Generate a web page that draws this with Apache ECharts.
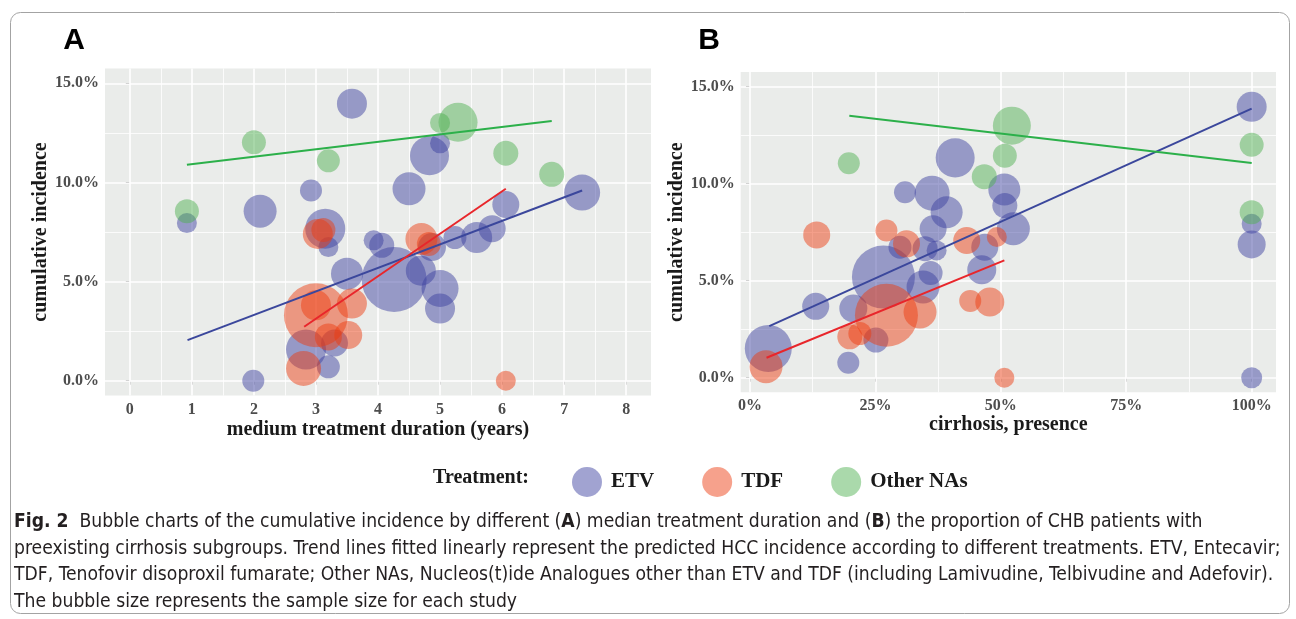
<!DOCTYPE html>
<html>
<head>
<meta charset="utf-8">
<script src="https://cdn.jsdelivr.net/npm/echarts@6/dist/echarts.min.js"></script>
<style>
html,body{margin:0;padding:0;background:#ffffff;}
#chart{width:1296px;height:619px;}
</style>
</head>
<body>
<div id="chart"></div>
<script>
// ---------- Panel A: median treatment duration (years) vs cumulative incidence (%) , sample size ----------
const etvA = [
  [0.92, 7.95, 494], [2.10, 8.55, 1344], [2.92, 9.59, 598], [3.58, 13.97, 1111],
  [3.15, 7.67, 1975], [3.20, 6.74, 494], [4.50, 9.68, 1344], [4.83, 11.35, 1878],
  [5.00, 11.97, 494], [6.06, 8.89, 900], [7.29, 9.49, 1600], [3.93, 7.08, 494],
  [4.06, 6.83, 772], [3.50, 5.40, 1264], [4.26, 5.10, 5216], [4.69, 5.55, 1111],
  [4.87, 6.74, 968], [5.24, 7.22, 653], [5.59, 7.22, 1186], [5.84, 7.67, 900],
  [5.00, 4.65, 1690], [5.00, 3.64, 1111], [2.84, 1.57, 1975], [3.30, 1.90, 900],
  [3.20, 0.70, 653], [1.99, 0.00, 598]
];
const tdfA = [
  [3.03, 7.40, 1111], [3.12, 7.60, 711], [4.70, 7.15, 1264], [4.82, 6.90, 711],
  [3.00, 3.30, 5057], [3.00, 3.80, 1111], [3.58, 3.89, 1111], [3.52, 2.30, 968],
  [3.20, 2.21, 900], [2.80, 0.62, 1512], [6.06, 0.00, 494]
];
const otherA = [
  [0.92, 8.55, 711], [2.00, 12.02, 711], [3.20, 11.09, 653], [5.00, 13.00, 494],
  [5.29, 13.03, 1878], [6.06, 11.47, 772], [6.80, 10.41, 772]
];
const trendEtvA = [[0.93, 2.05], [7.29, 9.59]];
const trendTdfA = [[2.81, 2.72], [6.06, 9.68]];
const trendOtherA = [[0.92, 10.89], [6.80, 13.10]];

// ---------- Panel B: cirrhosis presence (%) vs cumulative incidence (%), sample size ----------
const etvB = [
  [3.65, 1.51, 2727], [13.1, 3.68, 900], [19.6, 0.77, 598], [20.6, 3.57, 968],
  [25.1, 1.94, 772], [26.6, 5.19, 4900], [34.5, 4.68, 1344], [36.0, 5.40, 711],
  [29.9, 6.73, 653], [34.9, 6.65, 772], [37.2, 6.56, 494], [36.5, 7.68, 900],
  [30.9, 9.56, 598], [36.3, 9.51, 1512], [39.2, 8.53, 1264], [40.9, 11.33, 1878],
  [46.2, 5.57, 1038], [46.8, 6.73, 900], [50.7, 9.70, 1264], [50.8, 8.87, 772],
  [52.5, 7.68, 1344], [100, 13.96, 1111], [100, 7.93, 494], [100, 6.87, 968],
  [100, 0.00, 544]
];
const tdfB = [
  [3.2, 0.57, 1344], [13.3, 7.36, 900], [19.9, 2.11, 772], [21.9, 2.28, 653],
  [27.2, 3.22, 4900], [33.9, 3.39, 1344], [27.2, 7.59, 598], [31.2, 6.90, 900],
  [43.2, 7.07, 900], [49.2, 7.25, 494], [43.9, 3.96, 598], [47.8, 3.90, 1038],
  [50.7, 0.00, 494]
];
const otherB = [
  [19.7, 11.05, 598], [52.2, 12.99, 1783], [50.8, 11.44, 711], [46.7, 10.36, 772],
  [100, 12.00, 711], [100, 8.53, 711]
];
const trendEtvB = [[3.85, 2.66], [100, 13.87]];
const trendTdfB = [[3.3, 1.03], [50.7, 6.05]];
const trendOtherB = [[19.8, 13.5], [100, 11.07]];

// ---------- ticks ----------
const ticksXA = [0, 1, 2, 3, 4, 5, 6, 7, 8];
const minorXA = [0.5, 1.5, 2.5, 3.5, 4.5, 5.5, 6.5, 7.5];
const ticksXB = [0, 25, 50, 75, 100];
const minorXB = [12.5, 37.5, 62.5, 87.5];
const ticksY = [0, 5, 10, 15];
const minorY = [2.5, 7.5, 12.5];

const legendNames = ['ETV', 'TDF', 'Other NAs'];
const captionLines = [
  '{b|Fig. 2}  Bubble charts of the cumulative incidence by different ({b|A}) median treatment duration and ({b|B}) the proportion of CHB patients with',
  'preexisting cirrhosis subgroups. Trend lines fitted linearly represent the predicted HCC incidence according to different treatments. ETV, Entecavir;',
  'TDF, Tenofovir disoproxil fumarate; Other NAs, Nucleos(t)ide Analogues other than ETV and TDF (including Lamivudine, Telbivudine and Adefovir).',
  'The bubble size represents the sample size for each study'
];

// ---------- styles ----------
const COL = {
  ETV: 'rgba(58,62,158,0.6)',
  TDF: 'rgba(236,58,14,0.6)',
  OTH: 'rgba(77,175,80,0.6)',
  lETV: '#3B479C',
  lTDF: '#E8262B',
  lOTH: '#2CB04A'
};
const SERIF = "'Liberation Serif', 'Times New Roman', serif";
const CAPFONT = "'Liberation Sans Narrow', 'DejaVu Sans Condensed', 'Liberation Sans', sans-serif";

// fit caption font to reference width
const ctx = document.createElement('canvas').getContext('2d');
ctx.font = '20px ' + CAPFONT;
const w2 = ctx.measureText(captionLines[1]).width;
const capSize = Math.max(12, Math.min(24, 20 * 1268 / w2));

const chart = echarts.init(document.getElementById('chart'), null, {renderer: 'canvas'});

function gridLines(xMaj, xMin, yMaj, yMin) {
  const d = [];
  xMin.forEach(v => d.push({xAxis: v, lineStyle: {width: 0.8}}));
  yMin.forEach(v => d.push({yAxis: v, lineStyle: {width: 0.8}}));
  xMaj.forEach(v => d.push({xAxis: v, lineStyle: {width: 1.6}}));
  yMaj.forEach(v => d.push({yAxis: v, lineStyle: {width: 1.6}}));
  return {
    silent: true, symbol: ['none', 'none'], z: 1, animation: false,
    label: {show: false}, emphasis: {disabled: true},
    lineStyle: {color: '#ffffff', type: 'solid', opacity: 1},
    data: d
  };
}

const sizeFn = v => Math.sqrt(v[2]) * 0.9;

function bubbles(name, data, color, gi) {
  return {
    type: 'scatter', name: name, data: data, xAxisIndex: gi, yAxisIndex: gi,
    symbolSize: sizeFn, itemStyle: {color: color, borderWidth: 0},
    emphasis: {disabled: true}, z: 2, silent: true
  };
}
function trend(name, data, color, gi) {
  return {
    type: 'line', name: name, data: data, xAxisIndex: gi, yAxisIndex: gi,
    showSymbol: false, symbol: 'none', lineStyle: {color: color, width: 2},
    emphasis: {disabled: true}, z: 3, silent: true
  };
}

const labelStyle = {fontFamily: SERIF, fontWeight: 'bold', fontSize: 16, color: '#4D4D4D'};
const nameStyle = {fontFamily: SERIF, fontWeight: 'bold', fontSize: 20, color: '#1A1A1A'};
const tickStyle = {show: true, length: 4, lineStyle: {color: '#4D4D4D', width: 1}};

function xAxis(gi, min, max, ticks, fmt, title, gap) {
  return {
    type: 'value', gridIndex: gi, min: min, max: max,
    axisLine: {show: false}, splitLine: {show: false},
    axisTick: Object.assign({customValues: ticks}, tickStyle),
    axisLabel: Object.assign({customValues: ticks, margin: 6, formatter: fmt}, labelStyle),
    name: title, nameLocation: 'middle', nameGap: gap, nameMoveOverlap: false, nameTextStyle: nameStyle
  };
}
function yAxis(gi, title) {
  return {
    type: 'value', gridIndex: gi, min: -0.75, max: 15.75,
    axisLine: {show: false}, splitLine: {show: false},
    axisTick: Object.assign({customValues: ticksY}, tickStyle),
    axisLabel: Object.assign({customValues: ticksY, margin: 6, formatter: v => v.toFixed(1) + '%'}, labelStyle),
    name: title, nameLocation: 'middle', nameGap: 52, nameTextStyle: nameStyle
  };
}

const option = {
  animation: false,
  backgroundColor: '#ffffff',
  grid: [
    {left: 105, top: 68.4, width: 546, height: 327.2, show: true, backgroundColor: '#EAECEA', borderWidth: 0},
    {left: 740.7, top: 72.1, width: 535.3, height: 320.2, show: true, backgroundColor: '#EAECEA', borderWidth: 0}
  ],
  xAxis: [
    xAxis(0, -0.4, 8.4, ticksXA, v => String(v), 'medium treatment duration (years)', 24),
    xAxis(1, -1.85, 104.85, ticksXB, v => v + '%', 'cirrhosis, presence', 23)
  ],
  yAxis: [
    yAxis(0, 'cumulative incidence'),
    yAxis(1, 'cumulative incidence')
  ],
  legend: {
    data: legendNames, left: 567, top: 462, icon: 'circle',
    itemWidth: 30, itemHeight: 30, itemGap: 48, selectedMode: false,
    textStyle: {fontFamily: SERIF, fontWeight: 'bold', fontSize: 21, color: '#1A1A1A', padding: [0, 0, 0, 4]}
  },
  series: [
    {type: 'scatter', name: 'gridA', data: [], xAxisIndex: 0, yAxisIndex: 0, z: 1, silent: true, markLine: gridLines(ticksXA, minorXA, ticksY, minorY)},
    {type: 'scatter', name: 'gridB', data: [], xAxisIndex: 1, yAxisIndex: 1, z: 1, silent: true, markLine: gridLines(ticksXB, minorXB, ticksY, minorY)},
    bubbles('ETV', etvA, COL.ETV, 0),
    bubbles('TDF', tdfA, COL.TDF, 0),
    bubbles('Other NAs', otherA, COL.OTH, 0),
    bubbles('ETV', etvB, COL.ETV, 1),
    bubbles('TDF', tdfB, COL.TDF, 1),
    bubbles('Other NAs', otherB, COL.OTH, 1),
    trend('ETV trend A', trendEtvA, COL.lETV, 0),
    trend('TDF trend A', trendTdfA, COL.lTDF, 0),
    trend('Other trend A', trendOtherA, COL.lOTH, 0),
    trend('ETV trend B', trendEtvB, COL.lETV, 1),
    trend('TDF trend B', trendTdfB, COL.lTDF, 1),
    trend('Other trend B', trendOtherB, COL.lOTH, 1)
  ],
  graphic: [
    {type: 'rect', silent: true, z: 0, shape: {x: 10.5, y: 12.5, width: 1279, height: 601, r: 10},
     style: {fill: 'none', stroke: '#A3A3A3', lineWidth: 1}},
    {type: 'text', silent: true, x: 74, y: 41, style: {text: 'A', font: "bold 30px 'Liberation Sans', Arial, sans-serif", fill: '#000', textAlign: 'center', textVerticalAlign: 'middle'}},
    {type: 'text', silent: true, x: 709, y: 41, style: {text: 'B', font: "bold 30px 'Liberation Sans', Arial, sans-serif", fill: '#000', textAlign: 'center', textVerticalAlign: 'middle'}},
    {type: 'text', silent: true, x: 529, y: 478, style: {text: 'Treatment:', font: "bold 20px " + SERIF, fill: '#1A1A1A', textAlign: 'right', textVerticalAlign: 'middle'}}
  ].concat(captionLines.map((t, i) => ({
    type: 'text', silent: true, x: 14, y: 522 + i * 26.7,
    style: {
      text: t, fontFamily: CAPFONT, fontSize: capSize, fill: '#231F20',
      textAlign: 'left', textVerticalAlign: 'middle',
      rich: {b: {fontFamily: CAPFONT, fontSize: capSize, fontWeight: 'bold', fill: '#231F20'}}
    }
  })))
};

chart.setOption(option);
</script>
</body>
</html>
